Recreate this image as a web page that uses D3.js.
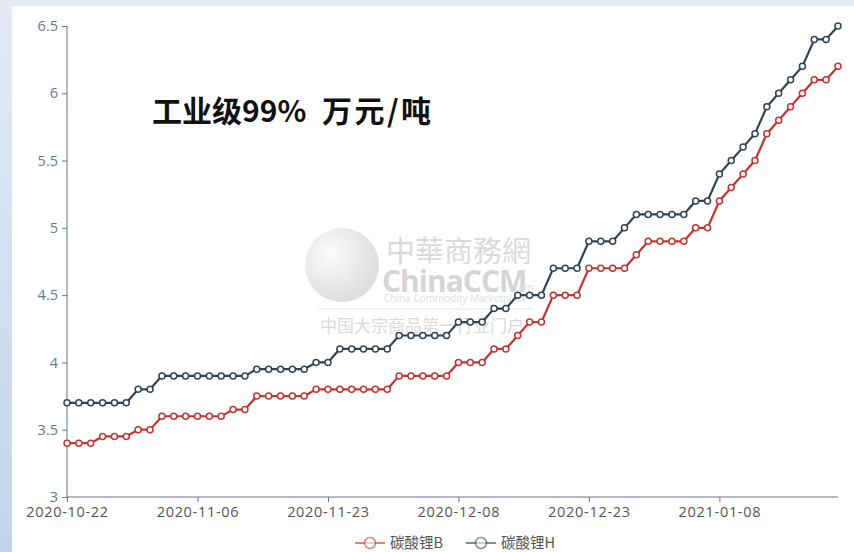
<!DOCTYPE html>
<html>
<head>
<meta charset="utf-8">
<title>碳酸锂</title>
<script src="https://cdn.jsdelivr.net/npm/d3@7"></script>
<style>
  body { margin: 0; padding: 0; background: #fff; }
  svg { display: block; font-family: "Noto Sans CJK SC", "Open Sans", sans-serif; }
</style>
</head>
<body>
<div id="chart"></div>
<script>
// categories (working days)
var dates = ["2020-10-22","2020-10-23","2020-10-26","2020-10-27","2020-10-28","2020-10-29","2020-10-30",
  "2020-11-02","2020-11-03","2020-11-04","2020-11-05","2020-11-06","2020-11-09","2020-11-10","2020-11-11",
  "2020-11-12","2020-11-13","2020-11-16","2020-11-17","2020-11-18","2020-11-19","2020-11-20","2020-11-23",
  "2020-11-24","2020-11-25","2020-11-26","2020-11-27","2020-11-30","2020-12-01","2020-12-02","2020-12-03",
  "2020-12-04","2020-12-07","2020-12-08","2020-12-09","2020-12-10","2020-12-11","2020-12-14","2020-12-15",
  "2020-12-16","2020-12-17","2020-12-18","2020-12-21","2020-12-22","2020-12-23","2020-12-24","2020-12-25",
  "2020-12-28","2020-12-29","2020-12-30","2020-12-31","2021-01-04","2021-01-05","2021-01-06","2021-01-07",
  "2021-01-08","2021-01-11","2021-01-12","2021-01-13","2021-01-14","2021-01-15","2021-01-18","2021-01-19",
  "2021-01-20","2021-01-21","2021-01-22"];

var seriesB = [3.4,3.4,3.4,3.45,3.45,3.45,3.5,3.5,3.6,3.6,3.6,3.6,3.6,3.6,3.65,3.65,
  3.75,3.75,3.75,3.75,3.75,3.8,3.8,3.8,3.8,3.8,3.8,3.8,3.9,3.9,3.9,3.9,3.9,
  4.0,4.0,4.0,4.1,4.1,4.2,4.3,4.3,4.5,4.5,4.5,4.7,4.7,4.7,4.7,4.8,4.9,4.9,4.9,4.9,
  5.0,5.0,5.2,5.3,5.4,5.5,5.7,5.8,5.9,6.0,6.1,6.1,6.2];

var seriesH = [3.7,3.7,3.7,3.7,3.7,3.7,3.8,3.8,3.9,3.9,3.9,3.9,3.9,3.9,3.9,3.9,
  3.95,3.95,3.95,3.95,3.95,4.0,4.0,4.1,4.1,4.1,4.1,4.1,4.2,4.2,4.2,4.2,4.2,
  4.3,4.3,4.3,4.4,4.4,4.5,4.5,4.5,4.7,4.7,4.7,4.9,4.9,4.9,5.0,5.1,5.1,5.1,5.1,5.1,
  5.2,5.2,5.4,5.5,5.6,5.7,5.9,6.0,6.1,6.2,6.4,6.4,6.5];

var yTicks = [3, 3.5, 4, 4.5, 5, 5.5, 6, 6.5];
var seriesNames = ["碳酸锂B", "碳酸锂H"];
var seriesColors = ["#c23531", "#2f4554"];

var width = 854, height = 552;
var svg = d3.select("#chart").append("svg")
  .attr("width", width).attr("height", height);

// background frame
var defs = svg.append("defs");
var lg = defs.append("linearGradient").attr("id", "bgGrad")
  .attr("x1", 0).attr("y1", 0).attr("x2", 0).attr("y2", 1);
lg.append("stop").attr("offset", "0%").attr("stop-color", "#e4ebf5");
lg.append("stop").attr("offset", "100%").attr("stop-color", "#c3d4ea");
svg.append("rect").attr("width", width).attr("height", height).attr("fill", "url(#bgGrad)");
svg.append("rect").attr("x", 0).attr("y", 0).attr("width", width).attr("height", 6).attr("fill", "#e3eaf4");
svg.append("rect").attr("x", 12).attr("y", 6).attr("width", width - 12).attr("height", height - 6).attr("fill", "#fff");

// watermark
var rg = defs.append("radialGradient").attr("id", "ball").attr("cx", "35%").attr("cy", "35%").attr("r", "65%");
rg.append("stop").attr("offset", "0%").attr("stop-color", "#fafafa");
rg.append("stop").attr("offset", "100%").attr("stop-color", "#c4c4c4");
var wm = svg.append("g").attr("opacity", 0.55);
wm.append("circle").attr("cx", 342).attr("cy", 265).attr("r", 37).attr("fill", "url(#ball)");
wm.append("text").attr("x", 386).attr("y", 262).attr("font-size", 29).attr("fill", "#bdbdbd")
  .attr("font-family", "Noto Sans CJK TC").text("中華商務網");
wm.append("text").attr("x", 382).attr("y", 292).attr("font-size", 30).attr("font-weight", "bold")
  .attr("fill", "#b4b4b4").attr("font-family", "Open Sans").attr("letter-spacing", -1).text("ChinaCCM");
wm.append("text").attr("x", 511).attr("y", 291).attr("font-size", 10).attr("fill", "#c4c4c4").text(".com");
wm.append("text").attr("x", 384).attr("y", 302).attr("font-size", 10).attr("fill", "#c4c4c4")
  .attr("font-family", "Open Sans").text("China Commodity Marketplace");
wm.append("line").attr("x1", 318).attr("x2", 532).attr("y1", 309).attr("y2", 309)
  .attr("stroke", "#d6d6d6").attr("stroke-width", 1);
wm.append("text").attr("x", 320).attr("y", 332).attr("font-size", 17).attr("fill", "#bdbdbd")
  .text("中国大宗商品第一行业门户");

// scales
var x = d3.scalePoint().domain(dates).range([67, 838]);
var y = d3.scaleLinear().domain([3, 6.5]).range([497, 26]);

// y axis
var yAxis = svg.append("g").attr("transform", "translate(67,0)")
  .call(d3.axisLeft(y).tickValues(yTicks).tickSize(5).tickPadding(4).tickFormat(d3.format("")));
yAxis.select(".domain").attr("stroke", "#6a7390").attr("d", "M-0,497V26");
yAxis.selectAll(".tick line").attr("stroke", "#6a7390");
yAxis.selectAll(".tick text").attr("fill", "#6a7598").attr("font-size", 14.5)
  .attr("font-family", "Open Sans");

// x axis
var xTickVals = dates.filter(function (d, i) { return i % 11 === 0; });
var xAxis = svg.append("g").attr("transform", "translate(0,497)")
  .call(d3.axisBottom(x).tickValues(xTickVals).tickSize(5).tickPadding(5));
xAxis.select(".domain").attr("stroke", "#6a7390").attr("d", "M67,0H838");
xAxis.selectAll(".tick line").attr("stroke", "#6a7390");
xAxis.selectAll(".tick text").attr("fill", "#555").attr("font-size", 14.5)
  .attr("font-family", "Open Sans").attr("letter-spacing", 0.7);

// title
svg.append("text").attr("x", 152).attr("y", 122).attr("font-size", 30).attr("font-weight", "bold")
  .attr("fill", "#111").text("工业级99%");
svg.append("text").attr("x", 322).attr("y", 122).attr("font-size", 30).attr("font-weight", "bold")
  .attr("fill", "#111").attr("letter-spacing", 2.5).text("万元/吨");

// lines
var line = d3.line().x(function (d, i) { return x(dates[i]); }).y(function (d) { return y(d); });
[seriesB, seriesH].forEach(function (s, k) {
  var g = svg.append("g");
  g.append("path").datum(s).attr("d", line).attr("fill", "none")
    .attr("stroke", seriesColors[k]).attr("stroke-width", 2.2);
  g.selectAll("circle").data(s).enter().append("circle")
    .attr("cx", function (d, i) { return x(dates[i]); })
    .attr("cy", function (d) { return y(d); })
    .attr("r", 3).attr("fill", "#fff")
    .attr("stroke", seriesColors[k]).attr("stroke-width", 1.5);
});

// legend
var legendX = [355, 466];
seriesNames.forEach(function (n, k) {
  var g = svg.append("g").attr("transform", "translate(" + legendX[k] + ",543)");
  g.append("line").attr("x1", 0).attr("x2", 30).attr("y1", 0).attr("y2", 0)
    .attr("stroke", seriesColors[k]).attr("stroke-width", 2).attr("opacity", 0.6);
  g.append("circle").attr("cx", 15).attr("cy", 0).attr("r", 5.5).attr("fill", "#fff")
    .attr("stroke", seriesColors[k]).attr("stroke-width", 1.5).attr("opacity", 0.6);
  g.append("text").attr("x", 35).attr("y", 5).attr("font-size", 14.5).attr("fill", "#555").text(n);
});
</script>
</body>
</html>
